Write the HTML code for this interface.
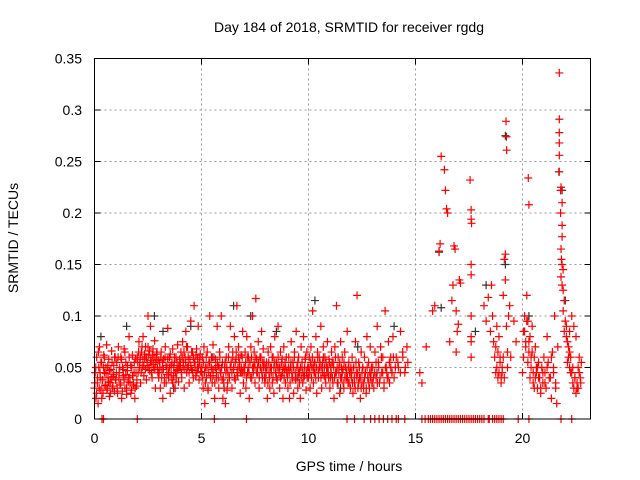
<!DOCTYPE html>
<html><head><meta charset="utf-8"><style>
body{margin:0;background:#fff}
svg{display:block;font-family:"Liberation Sans",sans-serif}
</style></head><body>
<svg id="chart" width="640" height="480" viewBox="0 0 640 480">
<rect width="640" height="480" fill="#fff"/>
<text x="349" y="32" font-size="14" text-anchor="middle">Day 184 of 2018, SRMTID for receiver rgdg</text>
<text x="349" y="471" font-size="14" text-anchor="middle">GPS time / hours</text>
<text transform="translate(18,238) rotate(-90)" font-size="14" text-anchor="middle">SRMTID / TECUs</text>
<g id="grid"></g><g id="ticks"></g><g id="black"></g><g id="red"></g>
<rect x="94.5" y="58.5" width="496" height="360.5" fill="none" stroke="#000" stroke-width="1"/>
</svg>
<script>
const xTicks=[0,5,10,15,20];
const yTicks=[0,0.05,0.1,0.15,0.2,0.25,0.3,0.35];
const yTickLabels=["0","0.05","0.1","0.15","0.2","0.25","0.3","0.35"];
const denseHours=[0,1,2,3,4,5,6,7,8,9,10,11,12,13,14];
const denseValues=[
[.03,.045,.02,.06,.035,.015,.05,.07,.04,.028,.055,.038,.025,.062,.045,.032,.05,.072,.03,.04,.058,.022,.035,.048,.066,.03,.041,.052,.027,.06],
[.038,.055,.025,.07,.045,.033,.06,.02,.05,.042,.068,.03,.055,.024,.047,.036,.08,.04,.052,.028,.062,.035,.045,.02,.058,.032],
[.06,.045,.075,.055,.035,.065,.05,.08,.042,.058,.07,.038,.052,.1,.062,.047,.09,.055,.04,.068,.05,.076,.03,.058,.065,.045],
[.04,.055,.03,.065,.048,.02,.058,.04,.07,.035,.05,.088,.045,.06,.025,.052,.038,.068,.042,.055,.03,.06,.047,.072,.036,.05],
[.05,.065,.04,.075,.055,.03,.06,.085,.045,.07,.052,.035,.058,.095,.048,.065,.04,.11,.055,.042,.068,.05,.09,.038,.06,.046],
[.045,.06,.03,.07,.015,.05,.04,.065,.028,.055,.1,.042,.06,.035,.072,.048,.02,.058,.04,.09,.052,.03,.065,.045,.1,.038],
[.02,.035,.05,.015,.06,.028,.045,.07,.04,.09,.055,.03,.065,.048,.08,.038,.058,.11,.042,.07,.05,.025,.062,.045,.085,.035],
[.05,.065,.03,.08,.045,.06,.02,.055,.07,.04,.1,.05,.065,.035,.117,.058,.045,.075,.03,.06,.05,.085,.04,.068,.055,.035],
[.04,.055,.02,.065,.045,.03,.07,.05,.035,.06,.025,.08,.045,.055,.038,.09,.05,.03,.065,.042,.058,.02,.07,.048,.035,.06],
[.045,.03,.06,.02,.05,.075,.04,.055,.025,.065,.038,.085,.05,.03,.06,.045,.02,.07,.05,.035,.08,.042,.058,.028,.065,.05],
[.04,.06,.03,.07,.05,.105,.035,.055,.045,.08,.025,.065,.04,.06,.05,.09,.03,.055,.07,.042,.06,.035,.05,.075,.045,.058],
[.03,.05,.065,.04,.055,.02,.07,.045,.11,.035,.06,.05,.025,.075,.04,.06,.048,.03,.065,.05,.04,.085,.035,.055,.045,.03],
[.04,.06,.025,.05,.035,.075,.045,.12,.03,.055,.04,.02,.065,.035,.05,.03,.06,.045,.025,.08,.04,.055,.03,.07,.045,.035],
[.05,.03,.065,.04,.09,.055,.035,.07,.045,.06,.03,.105,.05,.04,.075,.035,.06,.045,.08],
[.04,.06,.05,.085,.065,.045,.07]
];
const denseValues2=[
[.035,.05,.025,.04,.065,.03,.045,.055,.02,.038,.05,.06,.033,.044,.028,.052,.036,.047,.025,.04,.055,.032,.043,.06,.038],
[.045,.03,.06,.04,.05,.035,.058,.027,.048,.038,.065,.043,.03,.052,.04,.06,.035,.025,.05,.042,.033,.055,.03,.045,.038],
[.055,.065,.05,.06,.045,.07,.058,.052,.063,.048,.06,.055,.07,.05,.066,.057,.045,.062,.053,.06,.048,.055,.063,.05,.057],
[.045,.05,.06,.04,.055,.048,.035,.06,.052,.043,.058,.04,.05,.063,.045,.055,.035,.05,.06,.045,.04,.055,.048,.052,.058],
[.055,.045,.06,.05,.065,.048,.055,.07,.05,.06,.045,.058,.052,.065,.047,.06,.055,.05,.062,.045,.058,.05,.055,.063,.05],
[.05,.04,.055,.045,.035,.06,.05,.03,.045,.055,.04,.05,.048,.042,.06,.035,.05,.045,.055,.04,.05,.06,.045,.05,.055],
[.04,.03,.055,.045,.05,.035,.06,.04,.05,.055,.045,.06,.05,.04,.055,.065,.045,.05,.06,.055,.045,.05,.06,.045,.05],
[.045,.055,.04,.06,.05,.045,.055,.04,.06,.05,.045,.055,.05,.06,.045,.05,.055,.04,.05,.06,.045,.055,.05,.04,.05],
[.045,.05,.035,.055,.04,.05,.045,.06,.04,.05,.055,.045,.04,.05,.06,.045,.05,.04,.055,.045,.05,.04,.055,.05,.045],
[.04,.05,.045,.035,.055,.045,.04,.05,.06,.045,.04,.05,.055,.045,.035,.05,.04,.055,.045,.04,.05,.06,.045,.04,.05],
[.05,.045,.055,.04,.06,.05,.045,.055,.04,.05,.06,.045,.05,.055,.04,.05,.045,.06,.05,.04,.055,.045,.05,.04,.055],
[.04,.045,.055,.035,.05,.04,.06,.045,.05,.035,.045,.055,.04,.05,.045,.035,.055,.04,.05,.045,.04,.05,.035,.045,.05],
[.045,.035,.05,.04,.03,.055,.04,.045,.035,.05,.04,.03,.045,.05,.035,.04,.045,.03,.05,.04,.035,.045,.04,.05,.035],
[.04,.045,.055,.035,.05,.04,.06,.045,.035,.05,.045,.04,.055,.05,.045,.06],
[.05,.055,.045,.06,.05,.055]
];
const denseSpan=[1,1,1,1,1,1,1,1,1,1,1,1,1,1,0.7];
const lateTimes=[15.2,15.3,15.5,15.8,15.9,16.1,16.15,16.2,16.35,16.4,16.45,16.5,16.6,16.7,16.75,16.8,16.85,16.9,16.9,16.95,17.0,17.05,17.1,17.55,17.6,17.6,17.62,17.6,17.6,17.6,17.6,17.6,17.6,18.2,18.3,18.4,18.5,18.55,18.6,18.65,18.7,18.75,18.8,18.85,18.9,18.95,19.0,19.05,19.1,19.15,19.2,19.23,19.25,19.26,19.2,19.25,19.3,19.35,19.4,19.45,19.6,19.7,20.0,20.05,20.1,20.15,20.2,20.25,20.27,20.3,20.3,20.35,20.4,20.45,20.5,20.55,20.6,20.65,20.7,20.75,20.8,20.85,20.9,20.95,21.0,21.05,21.1,21.15,21.2,21.3,21.35,21.4,21.45,21.5,21.55,21.6,21.65,21.72,21.72,21.72,21.72,21.72,21.72,21.8,21.78,21.85,21.78,21.85,21.85,21.8,21.82,21.85,21.9,21.8,21.85,21.9,21.95,21.9,22.0,21.95,22.05,22.1,22.15,22.2,22.1,22.2,22.25,22.3,22.35,22.4,22.45,22.5,22.55,22.6,22.65,22.6,22.7,22.75,22.5,22.4,22.3,22.2,
18.75,18.8,18.85,18.9,18.95,19.0,19.05,19.1,19.15,19.3,20.05,20.15,20.25,20.35,20.45,20.55,20.65,20.75,20.85,20.95,21.05,21.15,21.25,21.35,21.45,21.55,22.05,22.15,22.25,22.35,22.45,22.55,22.65,22.72,20.1,20.2,20.3,20.4,20.5,20.6,20.7];
const lateValues=[.045,.035,.07,.105,.11,.163,.17,.255,.242,.222,.204,.2,.075,.115,.13,.168,.165,.105,.065,.085,.092,.135,.132,.232,.203,.194,.19,.15,.14,.1,.08,.06,.075,.11,.095,.118,.085,.13,.1,.075,.06,.045,.09,.04,.08,.055,.04,.05,.12,.155,.16,.289,.274,.261,.135,.09,.065,.1,.11,.06,.095,.075,.045,.085,.1,.07,.12,.095,.234,.208,.065,.08,.05,.09,.035,.06,.07,.045,.03,.055,.04,.025,.05,.035,.06,.045,.03,.08,.055,.04,.02,.065,.05,.1,.035,.015,.07,.336,.291,.278,.268,.256,.24,.225,.222,.21,.2,.188,.177,.165,.155,.15,.145,.138,.13,.125,.115,.105,.095,.085,.09,.075,.07,.065,.055,.05,.06,.045,.035,.03,.04,.025,.035,.05,.06,.03,.04,.055,.08,.09,.1,.085,
.07,.05,.065,.045,.06,.035,.045,.06,.04,.05,.06,.075,.055,.04,.065,.03,.05,.04,.03,.045,.035,.05,.04,.06,.045,.03,.08,.06,.045,.05,.04,.03,.045,.035,.085,.095,.075,.06,.045,.04,.05];
const zeroTimes=[0.35,0.42,2.0,5.6,7.1,11.8,12.15,12.6,12.9,13.1,13.3,13.5,13.7,13.9,14.1,14.2,14.5,15.3,15.45,15.6,15.7,15.8,15.9,16.0,16.1,16.2,16.3,16.4,16.5,16.6,16.7,16.8,16.9,17.0,17.1,17.2,17.3,17.4,17.5,17.6,17.7,17.8,17.9,18.0,18.1,18.2,18.4,18.45,18.6,18.7,18.8,18.9,19.0,19.1,19.8,20.3,21.8,22.3];
const blackTimes=[0.3,1.5,2.8,3.2,4.5,6.5,7.3,8.5,10.3,12.3,14.0,16.1,16.2,17.8,19.2,19.2,20.3,21.7,21.85,22.0,18.3,9.5,5.5,3.7,11.5,13.2];
const blackValues=[.08,.09,.1,.085,.09,.11,.1,.085,.115,.07,.09,.162,.108,.085,.275,.15,.1,.24,.222,.115,.13,.04,.06,.03,.03,.045];

const X0=94.5,PXH=21.4,Y0=419,PXV=1030;
const xs=t=>X0+t*PXH, ys=v=>Y0-v*PXV;
const NS="http://www.w3.org/2000/svg";
function mk(tag,attrs,parent){const e=document.createElementNS(NS,tag);for(const k in attrs)e.setAttribute(k,attrs[k]);parent.appendChild(e);return e;}
const grid=document.getElementById('grid'),ticks=document.getElementById('ticks');
xTicks.forEach(t=>{const x=xs(t);
 if(t>0){const g=mk('line',{x1:x,x2:x,y1:58.5,y2:419,stroke:'#999','stroke-dasharray':'2,3'},grid);
 
 }
 mk('line',{x1:x,x2:x,y1:419,y2:413,stroke:'#000'},ticks);
 mk('line',{x1:x,x2:x,y1:58.5,y2:64.5,stroke:'#000'},ticks);
 const l=mk('text',{x:x,y:443,'font-size':14,'text-anchor':'middle'},ticks);l.textContent=t;
 
 });
yTicks.forEach((v,i)=>{const y=ys(v);
 if(v>0&&v<0.35){const g=mk('line',{x1:94.5,x2:590.5,y1:y,y2:y,stroke:'#999','stroke-dasharray':'2,3'},grid);
 
 }
 mk('line',{x1:94.5,x2:100.5,y1:y,y2:y,stroke:'#000'},ticks);
 mk('line',{x1:584.5,x2:590.5,y1:y,y2:y,stroke:'#000'},ticks);
 const l=mk('text',{x:82,y:y+5,'font-size':14,'text-anchor':'end'},ticks);l.textContent=yTickLabels[i];
 
 });
function plus(t,v,col,parent){const x=xs(t),y=ys(v);
 const p=mk('path',{d:`M${x-4},${y}H${x+4}M${x},${y-4}V${y+4}`,stroke:col,'stroke-width':1.2,fill:'none'},parent);
 
 }
const red=document.getElementById('red'),black=document.getElementById('black');
blackTimes.forEach((t,i)=>plus(t,blackValues[i],'#333',black));
denseHours.forEach((h,i)=>{const vals=denseValues[i];vals.forEach((v,j)=>plus(h+denseSpan[i]*j/vals.length,v,'#f00',red));});
denseHours.forEach((h,i)=>{const vals=denseValues2[i];vals.forEach((v,j)=>plus(h+denseSpan[i]*(j+0.5)/vals.length,v,'#f00',red));});
lateTimes.forEach((t,i)=>plus(t,lateValues[i],'#f00',red));
zeroTimes.forEach(t=>plus(t,0,'#f00',red));
</script>
</body></html>
